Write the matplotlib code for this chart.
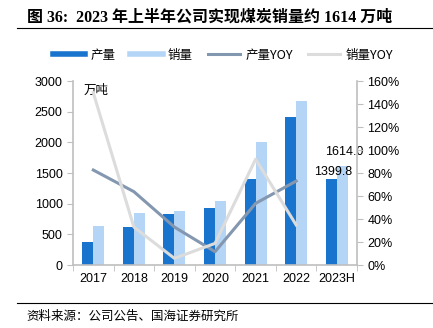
import matplotlib.pyplot as plt
from matplotlib.lines import Line2D
import numpy as np

plt.rcParams['font.family'] = ['Liberation Sans', 'Noto Sans CJK SC', 'DejaVu Sans']

# 数据
years = ['2017', '2018', '2019', '2020', '2021', '2022', '2023H']
output = [380, 620, 827, 925, 1408, 2414, 1399.8]
sales = [636, 843, 886, 1044, 2006, 2680, 1614.0]
output_yoy = [82.6, 63.8, 33.0, 11.6, 53.6, 73.0]
sales_yoy = [149.8, 33.0, 5.8, 18.8, 92.0, 34.8]

c_out = '#1874cd'
c_sales = '#b4d5f5'
c_out_yoy = '#8497b0'
c_sales_yoy = '#dcdcdc'
cjk = ['Noto Sans CJK SC', 'DejaVu Sans']

fig = plt.figure(figsize=(4.33, 3.28), dpi=100)
ax = fig.add_axes([0.1686, 0.192, 0.656, 0.561])
ax2 = ax.twinx()

x = np.arange(len(years))
w = 0.27
ax.bar(x - w / 2, output, w, color=c_out, zorder=2)
ax.bar(x + w / 2, sales, w, color=c_sales, zorder=2)

ax2.plot(x[:6], output_yoy, color=c_out_yoy, lw=2.2)
ax2.plot(x[:6], sales_yoy, color=c_sales_yoy, lw=2.2)

# 数值标签
ax.text(x[6] - 0.09, output[6] + 117, '%.1f' % output[6], ha='center', va='center', fontsize=9)
ax.text(x[6] + 0.19, sales[6] + 229, '%.1f' % sales[6], ha='center', va='center', fontsize=9)
ax.text(-0.25, 2960, '万吨', family=cjk, fontsize=9, va='top', ha='left')

ax.set_xlim(-0.5, 6.5)
ax.set_ylim(0, 3000)
ax.set_yticks(range(0, 3001, 500))
ax2.set_ylim(0, 160)
ax2.set_yticks(range(0, 161, 20))
ax2.set_yticklabels(['%d%%' % v for v in range(0, 161, 20)])
ax.set_xticks(x)
ax.set_xticklabels(years)
ax.set_xticks(np.arange(-0.5, 7, 1), minor=True)
ax.tick_params(axis='x', which='major', length=0, pad=6)
ax.tick_params(axis='x', which='minor', length=4, color='#bfbfbf')

for a in (ax, ax2):
    for s in a.spines.values():
        s.set_visible(False)
    a.tick_params(axis='y', length=4, color='#bfbfbf', labelsize=9)
ax.tick_params(axis='x', labelsize=9)
ax.spines['left'].set_visible(True)
ax.spines['bottom'].set_visible(True)
ax2.spines['right'].set_visible(True)
for s in (ax.spines['left'], ax.spines['bottom'], ax2.spines['right']):
    s.set_color('#bfbfbf')
    s.set_linewidth(1.2)

# 图例
handles = [Line2D([], [], color=c_out, lw=4),
           Line2D([], [], color=c_sales, lw=4),
           Line2D([], [], color=c_out_yoy, lw=2.2),
           Line2D([], [], color=c_sales_yoy, lw=2.2)]
labels = ['产量', '销量', '产量YOY', '销量YOY']
fig.legend(handles, labels, loc='center', bbox_to_anchor=(0.515, 0.832), ncol=4,
           frameon=False, prop={'family': cjk, 'size': 9}, handlelength=2.6,
           columnspacing=1.2, handletextpad=0.4)

# 标题和来源
fig.text(0.062, 0.945, '图 36:  2023 年上半年公司实现煤炭销量约 1614 万吨',
         family=['Liberation Serif', 'Noto Sans CJK SC'],
         fontsize=11.5, fontweight='bold', va='center')
fig.add_artist(Line2D([0.04, 1.0], [0.915, 0.915], color='black', lw=0.8))
fig.add_artist(Line2D([0.04, 1.0], [0.076, 0.076], color='black', lw=0.8))
fig.text(0.062, 0.035, '资料来源：公司公告、国海证券研究所', family=cjk, fontsize=9, va='center')

plt.savefig('out.png', dpi=100)
